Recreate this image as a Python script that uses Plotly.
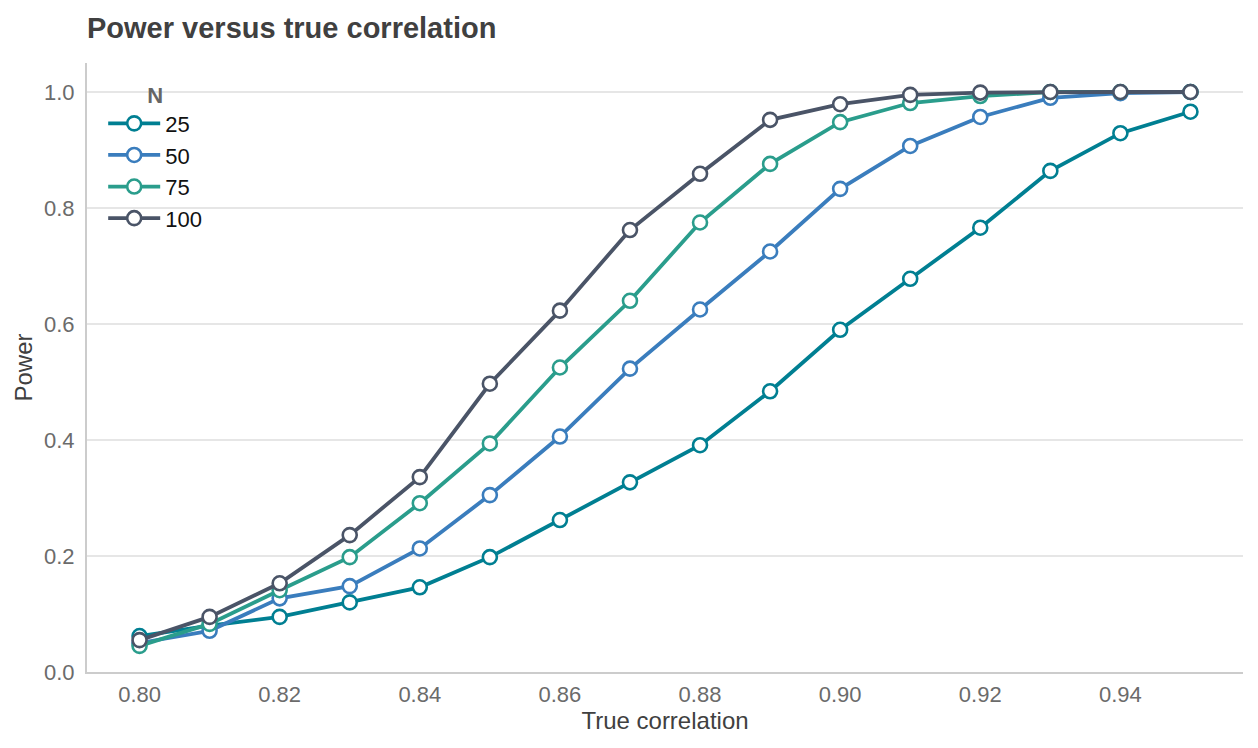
import plotly.graph_objects as go

# True correlation values on the x axis
rho = [0.80, 0.81, 0.82, 0.83, 0.84, 0.85, 0.86, 0.87, 0.88, 0.89,
       0.90, 0.91, 0.92, 0.93, 0.94, 0.95]

# Power for each sample size
power_25 = [0.062, 0.080, 0.095, 0.120, 0.146, 0.198, 0.262, 0.327, 0.391, 0.484,
            0.590, 0.678, 0.766, 0.864, 0.929, 0.966]
power_50 = [0.050, 0.071, 0.127, 0.148, 0.213, 0.305, 0.406, 0.523, 0.625, 0.725,
            0.833, 0.907, 0.957, 0.990, 0.998, 1.000]
power_75 = [0.045, 0.083, 0.141, 0.198, 0.291, 0.394, 0.525, 0.640, 0.775, 0.876,
            0.948, 0.981, 0.993, 1.000, 1.000, 1.000]
power_100 = [0.055, 0.095, 0.153, 0.236, 0.336, 0.497, 0.623, 0.762, 0.859, 0.952,
             0.979, 0.995, 0.999, 1.000, 1.000, 1.000]

sample_sizes = ["25", "50", "75", "100"]
series = [power_25, power_50, power_75, power_100]
colors = ["#007f92", "#3a7dbd", "#2a9d8c", "#4a5467"]

FONT = "Liberation Sans, Arial, sans-serif"

fig = go.Figure()
for name, vals, col in zip(sample_sizes, series, colors):
    fig.add_trace(go.Scatter(
        x=rho, y=vals, name=name, mode="lines+markers",
        line=dict(color=col, width=3.8),
        marker=dict(size=14, color="white", line=dict(color=col, width=2.6)),
    ))

# page body has an 8px margin, so the figure is sized to fit inside it
fig.update_layout(
    width=1242, height=732,
    paper_bgcolor="white", plot_bgcolor="white",
    margin=dict(l=79, r=7, t=55, b=68),
    font=dict(family=FONT, color="#404040"),
    title=dict(text="<b>Power versus true correlation</b>", x=0, xref="paper",
               xanchor="left", y=0.973, yanchor="middle",
               font=dict(size=29, color="#404040")),
    legend=dict(
        title=dict(text="<b>N</b>", font=dict(size=22, color="#666666"), side="top center"),
        x=0.014, y=0.982, xanchor="left", yanchor="top",
        itemwidth=52,
        font=dict(size=22, color="#111111"),
        bgcolor="rgba(255,255,255,0)",
    ),
)

fig.update_xaxes(
    range=[0.7925, 0.9575], dtick=0.02, tick0=0.80, tickformat=".2f",
    showgrid=False, zeroline=False,
    showline=True, linecolor="#cccccc", linewidth=2,
    ticks="", ticklabelstandoff=2, tickfont=dict(size=22, color="#6b6b6b"),
    title=dict(text="True correlation", font=dict(size=24, color="#404040"), standoff=3),
)
fig.update_yaxes(
    range=[0, 1.05], dtick=0.2, tickformat=".1f",
    showgrid=True, gridcolor="#e6e6e6", gridwidth=1.5, zeroline=False,
    showline=True, linecolor="#cccccc", linewidth=2,
    ticks="", ticklabelstandoff=6, tickfont=dict(size=22, color="#6b6b6b"),
    title=dict(text="Power", font=dict(size=24, color="#404040"), standoff=5),
)

fig.write_html("out.html")
